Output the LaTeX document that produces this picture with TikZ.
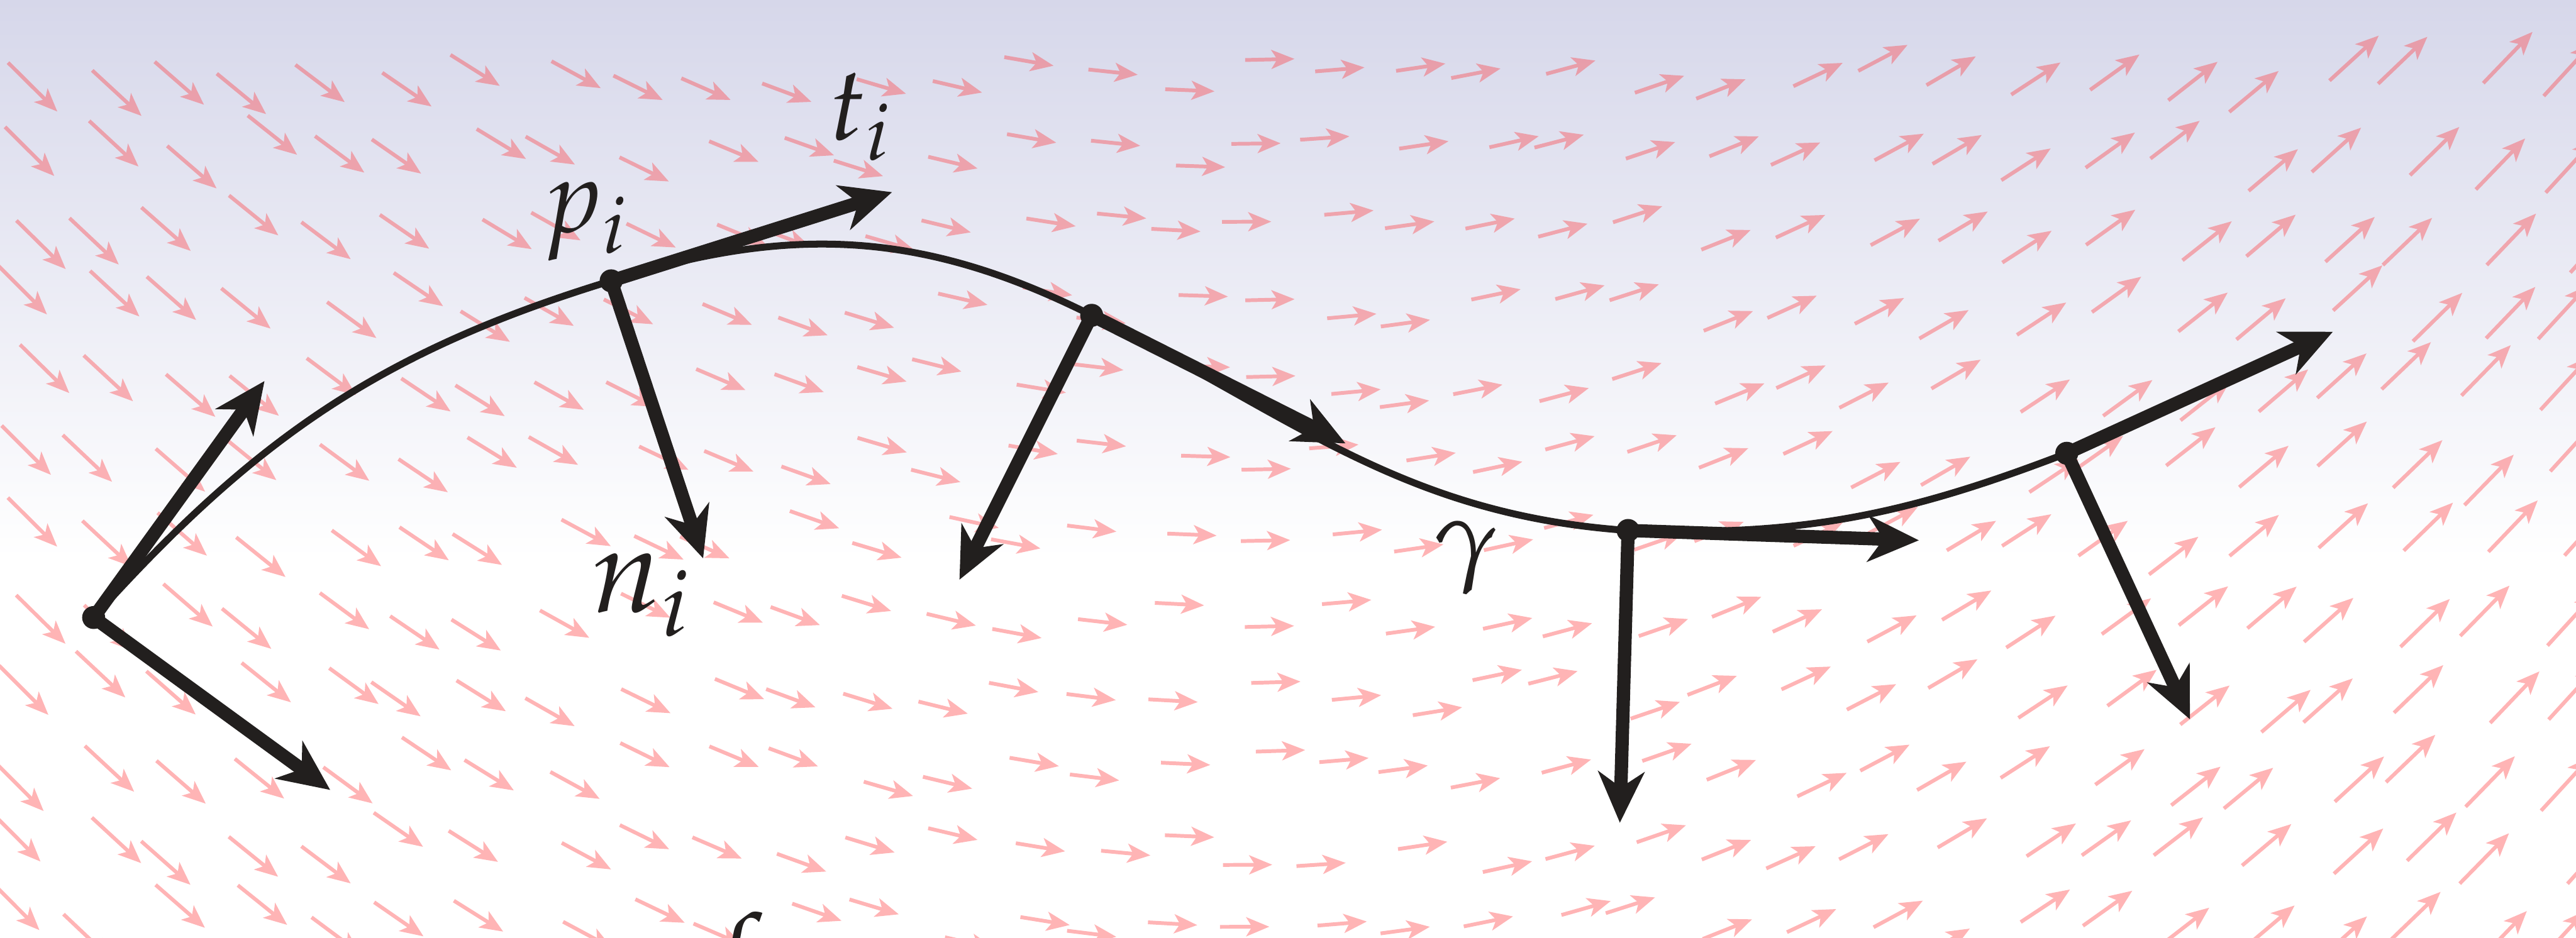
\documentclass[tikz,border=0pt]{standalone}
\usepackage{mathpazo}
\usepackage{tikz}
\usetikzlibrary{arrows.meta}
\usepackage{xcolor}
\definecolor{bgtop}{RGB}{214,215,234}
\definecolor{fieldpink}{RGB}{255,60,65}
\definecolor{inkblack}{RGB}{34,31,30}
\tikzset{
  fieldarr/.style={-{Stealth[length=1.4mm, width=1.15mm, inset=0.35mm]},
    line width=0.65pt, fieldpink},
  framearr/.style={-{Stealth[length=3.1mm, width=2.8mm, inset=0.95mm]},
    line width=2.3pt, inkblack},
  curveline/.style={line width=1.2pt, inkblack},
  framedot/.style={inkblack},
  lbl/.style={inner sep=0pt, font=\fontsize{18}{20}\selectfont, text=inkblack},
}

\begin{document}
\begin{tikzpicture}
  \useasboundingbox (0,0) rectangle (15.68,5.71);
  \clip (0,0) rectangle (15.68,5.71);

  % Background
  \fill[white] (0,0) rectangle (15.68,5.71);
  \shade[top color=bgtop, bottom color=white] (0,2.31) rectangle (15.68,5.71);

  % Vector field f
  \pgfmathsetseed{42}
  \begin{scope}[transparency group, opacity=0.385]
    \foreach \i in {0,...,33} {
      \foreach \j in {0,...,11} {
        \pgfmathsetmacro\cx{0.17+0.47*\i+0.12*rand}
        \pgfmathsetmacro\cy{5.25-0.47*\j+0.12*rand}
        \pgfmathsetmacro\dy{0.15*(-1.02+0.135*\cx)}
        \pgfmathsetmacro\xa{\cx-0.15}
        \pgfmathsetmacro\xb{\cx+0.15}
        \pgfmathsetmacro\ya{\cy-\dy}
        \pgfmathsetmacro\yb{\cy+\dy}
        \draw[fieldarr] (\xa,\ya) -- (\xb,\yb);
      }
    }
  \end{scope}

  % Points on gamma
  \coordinate (a) at (0.57,1.95);
  \coordinate (p) at (3.72,4.00);
  \coordinate (q) at (6.645,3.79);
  \coordinate (r) at (9.91,2.48);
  \coordinate (s) at (12.58,2.95);

  % Tips of tangents and normals
  \coordinate (at) at (1.61,3.39);
  \coordinate (an) at (2.01,0.90);
  \coordinate (pt) at (5.43,4.54);
  \coordinate (pn) at (4.28,2.31);
  \coordinate (qt) at (8.19,3.01);
  \coordinate (qn) at (5.84,2.18);
  \coordinate (rt) at (11.68,2.42);
  \coordinate (rn) at (9.86,0.70);
  \coordinate (st) at (14.20,3.69);
  \coordinate (sn) at (13.33,1.33);

  % Curve
  \draw[curveline] (a) to[out=48, in=197] (p) to[out=17.5, in=153.3] (q)
    to[out=-26.7, in=176] (r) to[out=-2, in=201] (s);

  % Frames
  \foreach \k in {a,p,q,r,s} {
    \draw[framearr] (\k) -- (\k t);
    \draw[framearr] (\k) -- (\k n);
    \fill[framedot] (\k) circle (0.07);
  }

  % Labels
  \node[lbl] (plbl) at (3.565,4.36) {$p_i$};
  \node[lbl] (tlbl) at (5.24,5.00) {$t_i$};
  \node[lbl, font=\fontsize{21}{24}\selectfont] (nlbl) at (3.905,2.085) {$n_i$};
  \node[lbl] (glbl) at (8.925,2.315) {$\gamma$};
  \node[lbl, anchor=north] (flbl) at (4.47,0.16) {$f$};
\end{tikzpicture}
\end{document}
